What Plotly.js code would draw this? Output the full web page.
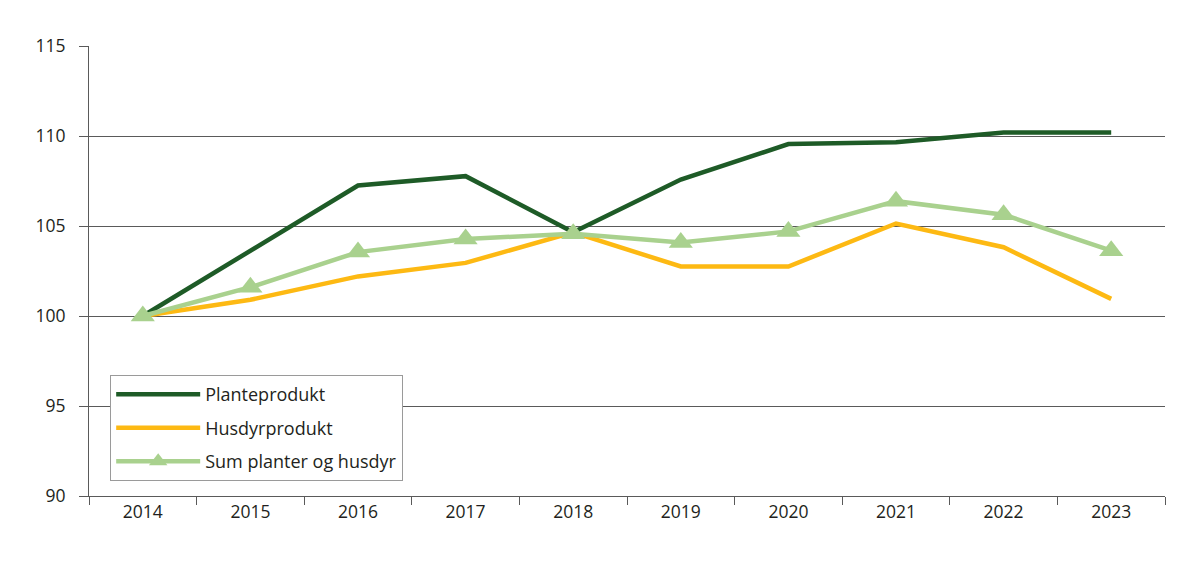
<!DOCTYPE html>
<html>
<head>
<meta charset="utf-8">
<script src="https://cdn.plot.ly/plotly-3.0.1.min.js"></script>
<style>html,body{margin:0;padding:0;background:#fff;}#chart{width:1200px;height:569px;}</style>
</head>
<body>
<div id="chart"></div>
<script>
const years = ["2014","2015","2016","2017","2018","2019","2020","2021","2022","2023"];
const planteprodukt = [100, 103.6, 107.25, 107.77, 104.65, 107.58, 109.55, 109.65, 110.2, 110.2];
const husdyrprodukt = [100, 100.9, 102.2, 102.95, 104.65, 102.75, 102.75, 105.14, 103.82, 100.95];
const sumPlanterHusdyr = [100, 101.6, 103.55, 104.28, 104.57, 104.08, 104.7, 106.38, 105.63, 103.63];
const seriesNames = ["Planteprodukt", "Husdyrprodukt", "Sum planter og husdyr"];

const font = {family: "Open Sans, Noto Sans, sans-serif", size: 17.5, color: "#231f20"};
const gridC = "#5a5a5a";

const traces = [
  {x: years, y: planteprodukt, name: seriesNames[0], legendgroup: "a", type: "scatter", mode: "lines",
   line: {color: "#1e5b27", width: 4.5}},
  {x: years, y: husdyrprodukt, name: seriesNames[1], legendgroup: "b", type: "scatter", mode: "lines",
   line: {color: "#fdb913", width: 4.5}},
  {x: years, y: sumPlanterHusdyr, name: seriesNames[2], legendgroup: "c", type: "scatter", mode: "lines+markers",
   line: {color: "#a9d18e", width: 4.5},
   marker: {symbol: "triangle-up", size: 21, color: "#a9d18e"}}
];

const layout = {
  width: 1200, height: 569,
  margin: {l: 89, r: 35, t: 46, b: 73},
  paper_bgcolor: "#fff", plot_bgcolor: "#fff",
  font: font,
  showlegend: true,
  legend: {
    x: 0.0195, y: 0.269, xanchor: "left", yanchor: "top",
    bordercolor: "#9a9a9a", borderwidth: 1.2, bgcolor: "#fff",
    font: {family: font.family, size: 18, color: "#231f20"},
    itemwidth: 84, tracegroupgap: 7, traceorder: "grouped"
  },
  xaxis: {
    type: "category", range: [-0.5, 9.5],
    showgrid: false, showline: true, linecolor: gridC, linewidth: 1,
    ticks: "outside", tickson: "boundaries", ticklen: 8, tickcolor: gridC, tickwidth: 1,
    tickfont: font, fixedrange: true
  },
  yaxis: {
    range: [90, 115], dtick: 5, tick0: 90,
    showgrid: true, gridcolor: gridC, gridwidth: 1,
    showline: true, linecolor: gridC, linewidth: 1,
    ticks: "outside", ticklen: 9, tickcolor: gridC, tickwidth: 1,
    ticklabelstandoff: 10,
    zeroline: false, tickfont: font, fixedrange: true
  }
};

Plotly.newPlot("chart", traces, layout, {displayModeBar: false, staticPlot: true});
</script>
</body>
</html>
